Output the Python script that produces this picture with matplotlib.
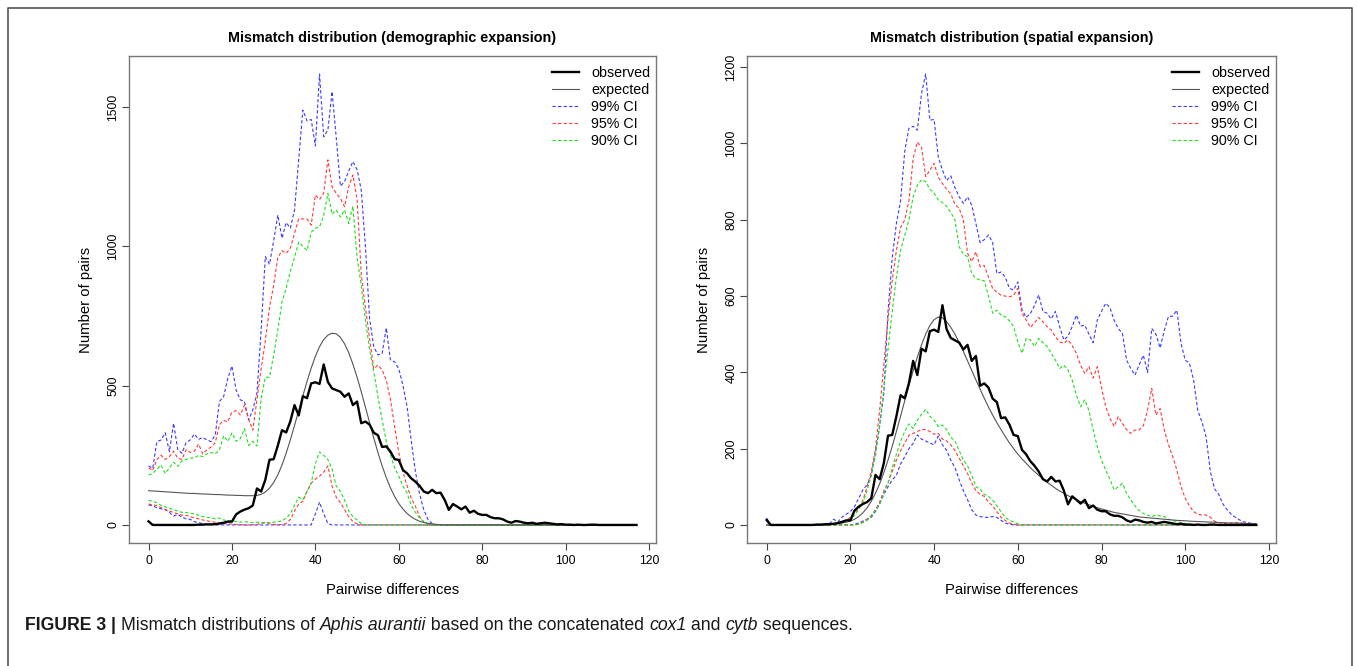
import numpy as np
import matplotlib
matplotlib.use("Agg")
import matplotlib.pyplot as plt
from matplotlib.lines import Line2D

plt.rcParams["font.family"] = ["Liberation Sans", "DejaVu Sans"]

## Data: pairwise differences 0..117
diffs = np.arange(118)

observed = [13, 0, 0, 0, 0, 0, 0, 0, 0, 0, 0, 0, 1, 1, 2, 2, 3, 5, 8, 12,
            12, 38, 48, 55, 60, 70, 131, 120, 162, 234, 236, 285, 340, 332, 372, 430, 393, 462, 455, 508,
            512, 506, 576, 513, 490, 484, 478, 460, 472, 430, 443, 365, 371, 360, 331, 322, 280, 282, 263, 236,
            233, 197, 185, 167, 155, 140, 120, 114, 126, 114, 116, 90, 54, 75, 66, 56, 66, 44, 51, 40,
            36, 36, 28, 24, 24, 20, 12, 8, 14, 12, 8, 6, 8, 4, 6, 8, 6, 4, 2, 3,
            1, 1, 0, 1, 0, 0, 1, 1, 0, 0, 0, 0, 0, 0, 0, 0, 0, 0]

# demographic expansion
demo_expected = [123, 122, 121, 120, 119, 118, 117, 116, 115, 114, 113, 113, 112, 111, 111, 110, 109, 109, 108, 107,
                 107, 106, 106, 105, 105, 105, 106, 110, 118, 132, 152, 180, 215, 258, 305, 357, 410, 463, 515, 563,
                 605, 640, 665, 681, 688, 686, 673, 650, 618, 577, 530, 478, 423, 367, 312, 260, 212, 170, 133, 102,
                 77, 57, 41, 29, 20, 13, 9, 6, 4, 2, 1, 0, 0, 0, 0, 0, 0, 0, 0, 0,
                 0, 0, 0, 0, 0, 0, 0, 0, 0, 0, 0, 0, 0, 0, 0, 0, 0, 0, 0, 0,
                 0, 0, 0, 0, 0, 0, 0, 0, 0, 0, 0, 0, 0, 0, 0, 0, 0, 0]
demo_ci99_hi = [212, 203, 299, 305, 331, 263, 365, 271, 257, 295, 305, 326, 307, 314, 305, 299, 323, 443, 460, 526,
                570, 484, 449, 443, 377, 413, 473, 700, 963, 935, 1020, 1112, 1029, 1085, 1065, 1130, 1310, 1489, 1450, 1455,
                1360, 1618, 1393, 1417, 1555, 1390, 1216, 1232, 1270, 1304, 1275, 1202, 1000, 740, 640, 610, 615, 707, 592, 585,
                560, 500, 424, 300, 190, 110, 54, 20, 5, 0, 0, 0, 0, 0, 0, 0, 0, 0, 0, 0,
                0, 0, 0, 0, 0, 0, 0, 0, 0, 0, 0, 0, 0, 0, 0, 0, 0, 0, 0, 0,
                0, 0, 0, 0, 0, 0, 0, 0, 0, 0, 0, 0, 0, 0, 0, 0, 0, 0]
demo_ci99_lo = [72, 68, 62, 58, 55, 45, 32, 38, 28, 22, 20, 12, 8, 5, 3, 1, 0, 0, 0, 0,
                0, 0, 0, 0, 0, 0, 0, 0, 0, 0, 0, 0, 0, 0, 0, 0, 0, 0, 0, 0,
                40, 82, 40, 5, 0, 0, 0, 0, 0, 0, 0, 0, 0, 0, 0, 0, 0, 0, 0, 0,
                0, 0, 0, 0, 0, 0, 0, 0, 0, 0, 0, 0, 0, 0, 0, 0, 0, 0, 0, 0,
                0, 0, 0, 0, 0, 0, 0, 0, 0, 0, 0, 0, 0, 0, 0, 0, 0, 0, 0, 0,
                0, 0, 0, 0, 0, 0, 0, 0, 0, 0, 0, 0, 0, 0, 0, 0, 0, 0]
demo_ci95_hi = [205, 195, 235, 250, 235, 245, 265, 240, 235, 270, 260, 265, 290, 255, 270, 280, 295, 360, 375, 370,
                405, 410, 395, 430, 380, 340, 450, 560, 660, 780, 860, 960, 984, 975, 993, 1047, 1098, 1098, 1098, 1076,
                1184, 1168, 1191, 1310, 1214, 1190, 1172, 1142, 1214, 1256, 1170, 900, 780, 670, 560, 574, 556, 520, 450, 353,
                260, 190, 140, 95, 66, 30, 10, 2, 0, 0, 0, 0, 0, 0, 0, 0, 0, 0, 0, 0,
                0, 0, 0, 0, 0, 0, 0, 0, 0, 0, 0, 0, 0, 0, 0, 0, 0, 0, 0, 0,
                0, 0, 0, 0, 0, 0, 0, 0, 0, 0, 0, 0, 0, 0, 0, 0, 0, 0]
demo_ci95_lo = [75, 72, 70, 62, 55, 50, 45, 40, 35, 35, 30, 25, 22, 18, 15, 12, 10, 8, 5, 4,
                3, 2, 1, 0, 0, 0, 2, 5, 8, 4, 2, 1, 2, 5, 20, 50, 75, 85, 120, 150,
                165, 175, 190, 212, 140, 100, 80, 55, 30, 12, 4, 0, 0, 0, 0, 0, 0, 0, 0, 0,
                0, 0, 0, 0, 0, 0, 0, 0, 0, 0, 0, 0, 0, 0, 0, 0, 0, 0, 0, 0,
                0, 0, 0, 0, 0, 0, 0, 0, 0, 0, 0, 0, 0, 0, 0, 0, 0, 0, 0, 0,
                0, 0, 0, 0, 0, 0, 0, 0, 0, 0, 0, 0, 0, 0, 0, 0, 0, 0]
demo_ci90_hi = [179, 185, 200, 215, 185, 205, 225, 210, 230, 235, 240, 240, 250, 245, 255, 260, 255, 270, 320, 300,
                330, 300, 310, 345, 285, 300, 283, 455, 530, 530, 610, 700, 800, 850, 910, 960, 1015, 1000, 985, 1050,
                1065, 1070, 1110, 1190, 1115, 1130, 1105, 1130, 1082, 1144, 960, 860, 735, 630, 550, 460, 377, 300, 250, 205,
                175, 140, 114, 70, 45, 25, 12, 4, 0, 0, 0, 0, 0, 0, 0, 0, 0, 0, 0, 0,
                0, 0, 0, 0, 0, 0, 0, 0, 0, 0, 0, 0, 0, 0, 0, 0, 0, 0, 0, 0,
                0, 0, 0, 0, 0, 0, 0, 0, 0, 0, 0, 0, 0, 0, 0, 0, 0, 0]
demo_ci90_lo = [88, 85, 80, 70, 65, 60, 55, 50, 45, 45, 42, 40, 35, 30, 28, 25, 22, 25, 18, 15,
                15, 12, 10, 12, 10, 8, 10, 8, 10, 8, 10, 12, 15, 25, 40, 70, 100, 90, 120, 150,
                220, 262, 250, 235, 200, 140, 120, 90, 50, 30, 18, 5, 2, 0, 0, 0, 0, 0, 0, 0,
                0, 0, 0, 0, 0, 0, 0, 0, 0, 0, 0, 0, 0, 0, 0, 0, 0, 0, 0, 0,
                0, 0, 0, 0, 0, 0, 0, 0, 0, 0, 0, 0, 0, 0, 0, 0, 0, 0, 0, 0,
                0, 0, 0, 0, 0, 0, 0, 0, 0, 0, 0, 0, 0, 0, 0, 0, 0, 0]

# spatial expansion
spat_expected = [0, 0, 0, 0, 0, 0, 0, 0, 0, 0, 0, 0, 0, 0, 0, 1, 2, 3, 5, 7,
                 10, 15, 22, 32, 45, 62, 83, 108, 137, 170, 206, 245, 285, 326, 366, 404, 440, 472, 500, 523,
                 538, 545, 543, 533, 518, 500, 478, 455, 430, 405, 380, 356, 332, 309, 288, 268, 250, 232, 215, 200,
                 186, 173, 162, 150, 140, 130, 121, 112, 104, 96, 89, 83, 77, 71, 66, 61, 57, 53, 49, 45,
                 42, 39, 36, 33, 31, 29, 27, 25, 23, 21, 20, 19, 18, 17, 16, 15, 14, 13, 12, 11.5,
                 11, 10, 9.5, 9, 8.5, 8, 7.5, 7, 6.5, 6, 5.5, 5, 5, 4.5, 4, 4, 3.5, 3]
spat_ci99_hi = [18, 0, 0, 0, 0, 0, 0, 0, 0, 0, 0, 0, 0, 0, 0, 3, 15, 8, 20, 28,
                35, 48, 70, 92, 105, 130, 190, 260, 345, 560, 700, 790, 850, 980, 1040, 1045, 1035, 1131, 1182, 1061,
                1063, 965, 930, 903, 915, 884, 860, 843, 860, 838, 790, 740, 748, 760, 740, 659, 663, 650, 620, 616,
                637, 565, 544, 554, 575, 603, 560, 555, 540, 560, 520, 485, 495, 520, 550, 521, 524, 500, 478, 537,
                560, 581, 570, 537, 515, 502, 432, 410, 393, 420, 445, 400, 515, 500, 464, 510, 547, 547, 563, 476,
                432, 424, 380, 300, 270, 230, 140, 95, 80, 55, 40, 28, 20, 13, 8, 6, 4, 3]
spat_ci99_lo = [0, 0, 0, 0, 0, 0, 0, 0, 0, 0, 0, 0, 0, 0, 0, 0, 0, 0, 0, 0,
                0, 2, 5, 10, 15, 20, 35, 55, 80, 100, 118, 130, 160, 179, 200, 214, 236, 225, 220, 215,
                210, 233, 210, 196, 170, 150, 118, 90, 66, 40, 26, 22, 20, 20, 22, 20, 12, 5, 2, 0,
                0, 0, 0, 0, 0, 0, 0, 0, 0, 0, 0, 0, 0, 0, 0, 0, 0, 0, 0, 0,
                0, 0, 0, 0, 0, 0, 0, 0, 0, 0, 0, 0, 0, 0, 0, 0, 0, 0, 0, 0,
                0, 0, 0, 0, 0, 0, 0, 0, 0, 0, 0, 0, 0, 0, 0, 0, 0, 0]
spat_ci95_hi = [10, 0, 0, 0, 0, 0, 0, 0, 0, 0, 0, 0, 0, 0, 0, 1, 3, 5, 8, 12,
                20, 30, 45, 65, 100, 140, 200, 300, 420, 540, 640, 720, 780, 800, 850, 960, 1004, 990, 913, 930,
                948, 912, 895, 880, 868, 840, 830, 800, 712, 690, 716, 677, 680, 650, 620, 610, 602, 600, 598, 602,
                620, 555, 537, 518, 530, 544, 532, 520, 511, 493, 480, 476, 485, 470, 450, 419, 397, 415, 385, 415,
                360, 310, 280, 258, 284, 266, 250, 240, 249, 249, 260, 301, 358, 288, 305, 249, 210, 180, 144, 100,
                70, 50, 35, 28, 26, 26, 20, 10, 6, 4, 4, 5, 6, 6, 4, 3, 3, 2]
spat_ci95_lo = [0, 0, 0, 0, 0, 0, 0, 0, 0, 0, 0, 0, 0, 0, 0, 0, 0, 0, 0, 0,
                0, 0, 2, 8, 15, 25, 40, 60, 90, 110, 140, 170, 195, 215, 235, 240, 245, 250, 250, 245,
                238, 240, 225, 220, 210, 195, 175, 155, 135, 110, 90, 80, 75, 60, 50, 35, 20, 12, 5, 2,
                0, 0, 0, 0, 0, 0, 0, 0, 0, 0, 0, 0, 0, 0, 0, 0, 0, 0, 0, 0,
                0, 0, 0, 0, 0, 0, 0, 0, 0, 0, 0, 0, 0, 0, 0, 0, 0, 0, 0, 0,
                0, 0, 0, 0, 0, 0, 0, 0, 0, 0, 0, 0, 0, 0, 0, 0, 0, 0]
spat_ci90_hi = [10, 0, 0, 0, 0, 0, 0, 0, 0, 0, 0, 0, 0, 0, 0, 1, 2, 3, 6, 10,
                15, 25, 40, 60, 90, 130, 180, 260, 360, 460, 560, 650, 720, 760, 800, 860, 890, 905, 900, 880,
                870, 852, 845, 835, 819, 800, 729, 710, 703, 659, 646, 642, 640, 600, 555, 563, 550, 546, 535, 520,
                480, 450, 489, 485, 468, 489, 478, 468, 450, 432, 410, 419, 406, 380, 340, 310, 328, 300, 250, 205,
                170, 144, 120, 92, 100, 109, 83, 65, 50, 38, 30, 26, 22, 26, 24, 22, 15, 12, 9, 6,
                4, 3, 2, 1, 0, 0, 0, 0, 0, 0, 0, 0, 0, 0, 0, 0, 0, 0]
spat_ci90_lo = [0, 0, 0, 0, 0, 0, 0, 0, 0, 0, 0, 0, 0, 0, 0, 0, 0, 0, 0, 0,
                0, 0, 2, 6, 12, 22, 38, 55, 85, 110, 150, 185, 220, 245, 265, 253, 275, 290, 303, 285,
                275, 258, 262, 250, 230, 220, 195, 170, 155, 130, 100, 95, 80, 75, 65, 50, 35, 20, 12, 8,
                3, 0, 0, 0, 0, 0, 0, 0, 0, 0, 0, 0, 0, 0, 0, 0, 0, 0, 0, 0,
                0, 0, 0, 0, 0, 0, 0, 0, 0, 0, 0, 0, 0, 0, 0, 0, 0, 0, 0, 0,
                0, 0, 0, 0, 0, 0, 0, 0, 0, 0, 0, 0, 0, 0, 0, 0, 0, 0]

legend_labels = ["observed", "expected", "99% CI", "95% CI", "90% CI"]
ci_colors = ["#3a3aff", "#ff3a3a", "#1ee01e"]


def draw_panel(ax, title, expected, ci_hi, ci_lo, yticks):
    dash = (0, (3, 2))
    for hi, lo, col in zip(ci_hi, ci_lo, ci_colors):
        ax.plot(diffs, hi, color=col, lw=0.8, ls=dash)
        ax.plot(diffs, lo, color=col, lw=0.8, ls=dash)
    ax.plot(diffs, expected, color="#555555", lw=0.8)
    ax.plot(diffs, observed, color="black", lw=1.7)

    top = max(max(h) for h in ci_hi)
    ax.set_xlim(-0.04 * 117, 117 * 1.04)
    ax.set_ylim(-0.04 * top, top * 1.04)
    ax.set_xticks([0, 20, 40, 60, 80, 100, 120])
    ax.set_yticks(yticks)
    ax.set_yticklabels([str(t) for t in yticks], rotation=90, va="center")
    ax.tick_params(direction="out", length=5, width=0.8, colors="#444444",
                   labelcolor="black", labelsize=8.8)
    ax.tick_params(axis="x", pad=4)
    ax.tick_params(axis="y", pad=2)
    for s in ax.spines.values():
        s.set_color("#777777")
        s.set_linewidth(1.0)
    ax.set_title(title, fontsize=10.4, fontweight="bold", pad=10)
    ax.set_xlabel("Pairwise differences", fontsize=10.7, labelpad=11)
    ax.set_ylabel("Number of pairs", fontsize=10.7, labelpad=10)

    handles = [Line2D([], [], color="black", lw=1.7),
               Line2D([], [], color="#555555", lw=0.8)]
    handles += [Line2D([], [], color=c, lw=0.8, ls=dash) for c in ci_colors]
    ax.legend(handles, legend_labels, loc="upper right", frameon=False,
              bbox_to_anchor=(1.0, 0.992), fontsize=10.3, handlelength=1.9,
              handletextpad=0.85, labelspacing=0.22, borderaxespad=0.0)


fig = plt.figure(figsize=(13.58, 6.66), dpi=100)
ax1 = fig.add_axes([0.095, 0.1847, 0.3881, 0.7312])
ax2 = fig.add_axes([0.5501, 0.1847, 0.3895, 0.7312])

draw_panel(ax1, "Mismatch distribution (demographic expansion)", demo_expected,
           [demo_ci99_hi, demo_ci95_hi, demo_ci90_hi],
           [demo_ci99_lo, demo_ci95_lo, demo_ci90_lo], [0, 500, 1000, 1500])
draw_panel(ax2, "Mismatch distribution (spatial expansion)", spat_expected,
           [spat_ci99_hi, spat_ci95_hi, spat_ci90_hi],
           [spat_ci99_lo, spat_ci95_lo, spat_ci90_lo], [0, 200, 400, 600, 800, 1000, 1200])

# outer frame of the figure panel
W, H = 1358.0, 666.0
frame_x = [8 / W, 8 / W, 1352 / W, 1352 / W]
frame_y = [0, 1 - 8 / H, 1 - 8 / H, 0]
fig.add_artist(Line2D(frame_x, frame_y, color="#555555", lw=1.2, transform=fig.transFigure))

# caption built from pieces
pieces = [("FIGURE 3 | ", "bold", "normal"),
          ("Mismatch distributions of ", "normal", "normal"),
          ("Aphis aurantii", "normal", "italic"),
          (" based on the concatenated ", "normal", "normal"),
          ("cox1", "normal", "italic"),
          (" and ", "normal", "normal"),
          ("cytb", "normal", "italic"),
          (" sequences.", "normal", "normal")]
fig.canvas.draw()
renderer = fig.canvas.get_renderer()
xpos = 25 / W
for txt, weight, style in pieces:
    t = fig.text(xpos, 1 - 626 / H, txt, fontsize=12.7, fontweight=weight,
                 fontstyle=style, va="center", ha="left", color="#1a1a1a")
    bb = t.get_window_extent(renderer)
    xpos += bb.width / W

fig.savefig("out.png", dpi=100)
